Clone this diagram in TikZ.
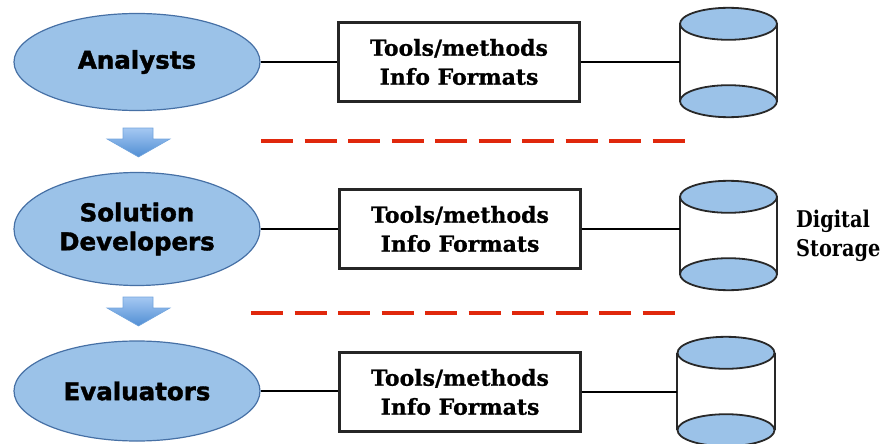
\documentclass[tikz,border=0pt]{standalone}
\usepackage{fontspec}
\usetikzlibrary{shapes.geometric}
\newfontfamily\elfont[BoldFeatures={FakeBold=1.6}]{DejaVu Sans}
\newfontfamily\boxfont[BoldFeatures={FakeBold=0.8}]{DejaVu Serif}
\newfontfamily\dsfont[FakeStretch=0.84]{DejaVu Serif}
\definecolor{elfill}{RGB}{155,194,232}
\definecolor{eldraw}{RGB}{70,112,165}
\definecolor{dashred}{RGB}{224,40,12}
\definecolor{arrtop}{RGB}{165,200,242}
\definecolor{arrbot}{RGB}{80,142,212}
\definecolor{cyldraw}{RGB}{40,40,40}
\tikzset{
  actor/.style={ellipse, draw=eldraw, line width=1.2pt, fill=elfill, minimum width=246pt,
    inner sep=0pt, align=center, font=\elfont\bfseries\fontsize{24.5}{29}\selectfont},
  toolbox/.style={rectangle, draw=black!85, line width=2.4pt, fill=white, minimum width=241pt,
    minimum height=79pt, align=center, font=\boxfont\bfseries\fontsize{22}{29}\selectfont},
  cylbox/.style={rectangle, minimum width=97pt, minimum height=77pt, inner sep=0pt},
  cylline/.style={draw=cyldraw, line width=1.8pt},
  link/.style={draw=black, line width=2pt},
  reddash/.style={draw=dashred, line width=4pt, dash pattern=on 32.3pt off 11.2pt},
  flowarrow/.style={top color=arrtop, bottom color=arrbot, draw=arrbot!80!white, line width=0.6pt}
}
\newcommand{\drawcyl}[1]{%
  \fill[white] (#1.north west) rectangle (#1.south east);
  \draw[cylline] (#1.north west) -- (#1.south west);
  \draw[cylline] (#1.north east) -- (#1.south east);
  \draw[cylline, fill=elfill] (#1.south) ellipse [x radius=48.5pt, y radius=16pt];
  \draw[cylline, fill=elfill] (#1.north) ellipse [x radius=48.5pt, y radius=16pt];
}
\begin{document}
\begin{tikzpicture}[x=1pt,y=-1pt]
\useasboundingbox (0,0) rectangle (884,444);
% actors
\node[actor, minimum height=97pt] (e1) at (137,62) {Analysts};
\node[actor, minimum height=113pt] (e2) at (137,229) {Solution\\Developers};
\node[actor, minimum height=100pt] (e3) at (137,391) {Evaluators};
% boxes
\node[toolbox] (b1) at (459,62) {Tools/methods\\Info Formats};
\node[toolbox] (b2) at (460,229) {Tools/methods\\Info Formats};
\node[toolbox] (b3) at (460,392) {Tools/methods\\Info Formats};
% cylinders
\node[cylbox] (c1) at (728.5,62.5) {};
\node[cylbox] (c2) at (728.5,235.5) {};
\node[cylbox] (c3) at (726,391.5) {};
\drawcyl{c1}
\drawcyl{c2}
\drawcyl{c3}
% connectors
\draw[link] (e1.east) -- (e1.east -| b1.west);
\draw[link] (e2.east) -- (e2.east -| b2.west);
\draw[link] (e3.east) -- (e3.east -| b3.west);
\draw[link] (b1.east) -- (b1.east -| c1.west);
\draw[link] (b2.east) -- (b2.east -| c2.west);
\draw[link] (b3.east) -- (b3.east -| c3.west);
% label
\node[anchor=west, align=left, inner sep=0pt, font=\dsfont\bfseries\fontsize{23}{29}\selectfont] (ds) at (796,236) {Digital\\Storage};
% flow arrows
\shadedraw[flowarrow] (123,128) -- (153,128) -- (153,139) -- (170,139) -- (138.5,157) -- (107,139) -- (123,139) -- cycle;
\shadedraw[flowarrow] (123,297) -- (153,297) -- (153,308) -- (170,308) -- (138.5,326) -- (107,308) -- (123,308) -- cycle;
% separators
\coordinate (s1a) at (261,141);
\coordinate (s1b) at (685,141);
\coordinate (s2a) at (251,313);
\coordinate (s2b) at (675,313);
\draw[reddash] (s1a) -- (s1b);
\draw[reddash] (s2a) -- (s2b);
\end{tikzpicture}
\end{document}
